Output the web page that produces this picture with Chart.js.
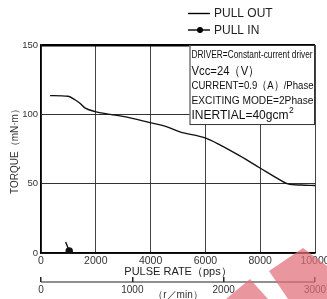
<!DOCTYPE html>
<html>
<head>
<meta charset="utf-8" />
<title>Torque curve</title>
<script src="https://cdn.jsdelivr.net/npm/chart.js@4.4.1/dist/chart.umd.min.js"></script>
<style>
  html, body { margin: 0; padding: 0; background: #fff; }
  #wrap { width: 327px; height: 299px; position: relative; }
</style>
</head>
<body>
<div id="wrap"><canvas id="myChart" width="327" height="299"></canvas></div>
<script>
// values
var pulloutPps    = [330, 990, 1240, 1420, 1600, 1970, 2520, 3140, 3980, 4600, 5070, 5990, 6530, 7260, 7990, 8720, 9010, 9500, 10000];
var pulloutTorque = [113.5, 113, 110.5, 108, 104.6, 102, 100, 98, 94, 91, 87.3, 83, 78, 70, 61.3, 52.7, 49.8, 49, 48.7];
var pullinPps     = [900, 1030];
var pullinTorque  = [8, 1.5];

var xTicks  = [0, 2000, 4000, 6000, 8000, 10000];
var yTicks  = [0, 50, 100, 150];
var rpmTicks = [0, 1000, 2000, 3000];

var infoLines = ["DRIVER=Constant-current driver", "Vcc=24\uFF08V\uFF09", "CURRENT=0.9\uFF08A\uFF09/Phase", "EXCITING MODE=2Phase", "INERTIAL=40gcm"];

var FONT = "'Liberation Sans', Arial, sans-serif";

function pts(xs, ys) {
    var out = [];
    for (var i = 0; i < xs.length; i++) out.push({x: xs[i], y: ys[i]});
    return out;
}

function plain(v) { return String(v); }

// legend drawn top right, one row per dataset
var legendPlugin = {
    id: 'stackLegend',
    afterDraw: function(chart) {
        var ctx = chart.ctx;
        ctx.save();
        chart.data.datasets.forEach(function(ds, i) {
            var y = 13.5 + 16.5 * i;
            ctx.strokeStyle = '#000';
            ctx.lineWidth = 1.4;
            ctx.beginPath();
            ctx.moveTo(188, y);
            ctx.lineTo(210, y);
            ctx.stroke();
            if (ds.legendDot) {
                ctx.fillStyle = '#000';
                ctx.beginPath();
                ctx.arc(200, y, 3, 0, Math.PI * 2);
                ctx.fill();
            }
            ctx.fillStyle = '#222';
            ctx.font = '12px ' + FONT;
            ctx.textBaseline = 'middle';
            ctx.textAlign = 'left';
            ctx.fillText(ds.label, 214, y + 0.5);
        });
        ctx.restore();
    }
};

// condition box in the upper right of the plot
var infoPlugin = {
    id: 'infoBox',
    afterDatasetsDraw: function(chart) {
        var ctx = chart.ctx;
        var area = chart.chartArea;
        var left = chart.scales.x.getPixelForValue(5420);
        var top = area.top;
        var bottom = chart.scales.y.getPixelForValue(93);
        ctx.save();
        ctx.fillStyle = '#fff';
        ctx.fillRect(left, top, area.right - left, bottom - top);
        ctx.strokeStyle = '#333';
        ctx.lineWidth = 1;
        ctx.strokeRect(left + 0.5, top + 0.5, area.right - left - 1, bottom - top);

        ctx.fillStyle = '#111';
        ctx.textBaseline = 'middle';
        ctx.textAlign = 'left';
        var tx = left + 2;
        ctx.font = '10px ' + FONT;
        ctx.fillText(infoLines[0], tx, top + 10.5, 121);
        ctx.font = '13px ' + FONT;
        ctx.fillText(infoLines[1], tx, top + 26, 68);
        ctx.font = '11.5px ' + FONT;
        ctx.fillText(infoLines[2], tx, top + 41, 122);
        ctx.font = '11.5px ' + FONT;
        ctx.fillText(infoLines[3], tx, top + 56, 122);
        ctx.font = '13px ' + FONT;
        ctx.fillText(infoLines[4], tx, top + 70.5, 97);
        var w = Math.min(ctx.measureText(infoLines[4]).width, 97);
        ctx.font = '8.5px ' + FONT;
        ctx.fillText('2', tx + w + 0.5, top + 66);
        ctx.restore();
    }
};

// rpm axis base line (ticks point up from it)
var rpmLinePlugin = {
    id: 'rpmLine',
    afterDraw: function(chart) {
        var s = chart.scales.x2;
        var ctx = chart.ctx;
        var y = s.top + 5;
        ctx.save();
        ctx.strokeStyle = '#222';
        ctx.lineWidth = 1.2;
        ctx.beginPath();
        ctx.moveTo(s.left, y);
        ctx.lineTo(s.right, y);
        ctx.stroke();
        ctx.restore();
    }
};

// faint watermark at the lower right
var markPlugin = {
    id: 'mark',
    afterDraw: function(chart) {
        var ctx = chart.ctx;
        ctx.save();
        ctx.fillStyle = 'rgba(226, 110, 122, 0.72)';
        ctx.beginPath();
        ctx.moveTo(226, 299); ctx.lineTo(250, 279); ctx.lineTo(268, 299);
        ctx.closePath();
        ctx.fill();
        ctx.beginPath();
        ctx.moveTo(269, 271); ctx.lineTo(303, 248); ctx.lineTo(327, 266);
        ctx.lineTo(327, 299); ctx.lineTo(288, 299);
        ctx.closePath();
        ctx.fill();
        ctx.restore();
    }
};

var ctx = document.getElementById('myChart').getContext('2d');
var chart = new Chart(ctx, {
    type: 'line',
    data: {
        datasets: [{
            label: 'PULL OUT',
            data: pts(pulloutPps, pulloutTorque),
            borderColor: '#111',
            borderWidth: 1.4,
            pointRadius: 0,
            cubicInterpolationMode: 'monotone',
            fill: false
        }, {
            label: 'PULL IN',
            legendDot: true,
            data: pts(pullinPps, pullinTorque),
            borderColor: '#111',
            backgroundColor: '#111',
            borderWidth: 1.4,
            pointRadius: [0, 3],
            fill: false
        }]
    },
    options: {
        responsive: false,
        animation: false,
        layout: { padding: { top: 45, left: 0, right: 12, bottom: 0 } },
        plugins: { legend: { display: false }, tooltip: { enabled: false } },
        scales: {
            x: {
                type: 'linear', position: 'bottom',
                min: 0, max: 10000,
                afterBuildTicks: function(s) { s.ticks = xTicks.map(function(v) { return {value: v}; }); },
                afterFit: function(s) { s.height = 24; s.paddingLeft = 0; s.paddingRight = 0; },
                ticks: { autoSkip: false, maxRotation: 0, padding: 2, color: '#333', callback: plain, font: { family: FONT, size: 10.5 } },
                grid: { color: '#444', lineWidth: 1, drawTicks: false },
                border: { color: '#000', width: 1.6 },
                title: { display: true, text: 'PULSE RATE\uFF08pps\uFF09', color: '#222', font: { family: FONT, size: 11, lineHeight: 1 }, padding: { top: 0, bottom: 0 } }
            },
            x2: {
                type: 'linear', position: 'bottom',
                min: 0, max: 3000,
                afterBuildTicks: function(s) { s.ticks = rpmTicks.map(function(v) { return {value: v}; }); },
                afterFit: function(s) { s.height = 22; s.paddingLeft = 0; s.paddingRight = 0; },
                ticks: { autoSkip: false, maxRotation: 0, padding: 2, color: '#333', callback: plain, font: { family: FONT, size: 10 } },
                grid: { drawOnChartArea: false, tickLength: 5, color: '#222', lineWidth: 1.5 },
                border: { display: false },
                title: { display: true, text: '\uFF08r\uFF0Fmin\uFF09', color: '#333', font: { family: FONT, size: 10, lineHeight: 1 }, padding: { top: 0, bottom: -1 } }
            },
            y: {
                min: 0, max: 150,
                afterBuildTicks: function(s) { s.ticks = yTicks.map(function(v) { return {value: v}; }); },
                afterFit: function(s) { s.width = 41; },
                ticks: { padding: 3, color: '#333', callback: plain, font: { family: FONT, size: 9.5 } },
                grid: {
                    drawTicks: false,
                    color: function(c) { return c.tick && c.tick.value === 150 ? '#000' : '#333'; },
                    lineWidth: function(c) { return c.tick && c.tick.value === 150 ? 2.5 : 1; }
                },
                border: { color: '#000', width: 1.4 },
                title: { display: true, text: 'TORQUE\uFF08mN\u00B7m\uFF09', color: '#333', font: { family: FONT, size: 10, lineHeight: 1 }, padding: { top: 10, bottom: 0 } }
            }
        }
    },
    plugins: [infoPlugin, legendPlugin, rpmLinePlugin, markPlugin]
});
</script>
</body>
</html>
